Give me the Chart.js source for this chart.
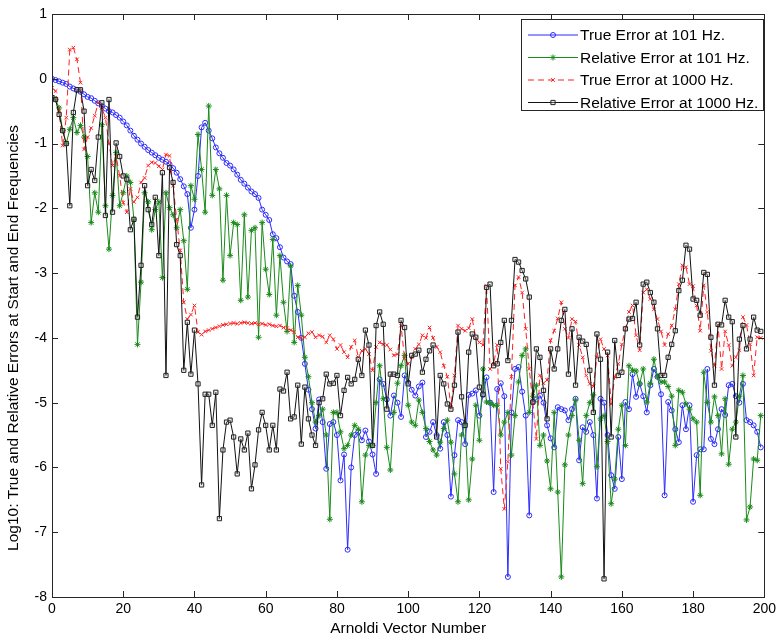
<!DOCTYPE html>
<html>
<head>
<meta charset="utf-8">
<script src="https://cdn.jsdelivr.net/npm/chart.js@4.4.1/dist/chart.umd.min.js"></script>
<style>
  html, body { margin: 0; padding: 0; background: #ffffff; }
  canvas { display: block; }
</style>
</head>
<body>
<canvas id="chart" width="780" height="641"></canvas>
<script>
// log10 error per Arnoldi vector (index 0..199)
const trueErr101 = [
  0, -0.02, -0.04, -0.06, -0.08, -0.12, -0.15, -0.17, -0.2, -0.24,
  -0.28, -0.3, -0.34, -0.38, -0.42, -0.46, -0.5, -0.52, -0.56, -0.6,
  -0.66, -0.72, -0.8, -0.88, -0.94, -1.0, -1.05, -1.1, -1.14, -1.18,
  -1.22, -1.25, -1.28, -1.32, -1.38, -1.45, -1.55, -1.66, -1.78, -2.3,
  -2.02, -1.5, -0.75, -0.68, -0.8, -0.92, -1.06, -1.15, -1.22, -1.3,
  -1.34, -1.4, -1.48, -1.56, -1.62, -1.68, -1.74, -1.78, -1.84, -2.02,
  -2.1, -2.18, -2.4, -2.46, -2.6, -2.76, -2.82, -2.86, -3.35, -3.6,
  -4.0, -4.4, -4.8, -5.1, -5.4, -4.95, -5.3, -6.02, -5.33, -5.3,
  -5.5, -6.2, -5.8, -7.27, -6.0, -5.5, -5.45, -5.58, -5.43, -5.6,
  -5.8, -6.1, -4.64, -4.71, -4.95, -5.2, -4.89, -5.0, -5.22, -4.58,
  -4.69, -4.8, -4.89, -4.75, -4.69, -5.53, -5.45, -5.3, -5.5, -5.71,
  -5.3, -5.5, -6.45, -5.81, -5.27, -5.3, -5.64, -4.88, -4.86, -4.81,
  -5.2, -4.88, -4.61, -5.0, -6.38, -4.79, -4.7, -4.9, -7.69, -5.15,
  -4.48, -4.45, -4.83, -5.2, -6.74, -4.99, -4.95, -4.89, -5.0, -5.35,
  -5.55, -5.69, -5.07, -5.1, -5.12, -5.27, -5.1, -4.94, -5.89, -5.38,
  -5.45, -5.3, -5.5, -6.48, -4.94, -5.0, -5.5, -6.12, -6.33, -5.53,
  -6.18, -4.99, -5.1, -4.56, -4.91, -4.71, -4.9, -5.15, -4.73, -4.48,
  -4.6, -4.87, -6.43, -4.99, -5.12, -5.41, -5.61, -5.04, -5.41, -5.04,
  -6.53, -5.81, -5.72, -5.72, -4.48, -5.56, -5.64, -5.41, -5.1, -5.19,
  -4.73, -4.71, -4.9, -5.0, -4.71, -5.27, -5.3, -5.35, -5.45, -5.69
];
const relErr101 = [
  -0.29, -0.32, -0.45, -0.8, -1.0, -0.78, -0.6, -0.83, -0.72, -0.9,
  -1.2, -2.22, -1.76, -2.06, -0.71, -1.96, -2.63, -1.8, -1.14, -1.96,
  -1.76, -1.5, -1.6, -2.17, -4.1, -3.14, -1.76, -1.9, -2.33, -2.02,
  -1.9, -3.07, -1.76, -1.99, -2.1, -2.3, -2.02, -2.5, -3.25, -1.65,
  -1.86, -0.86, -1.4, -2.06, -0.42, -1.8, -1.4, -1.7, -3.11, -1.8,
  -2.73, -2.22, -2.25, -3.42, -2.1, -3.37, -2.34, -2.3, -3.99, -2.22,
  -2.94, -3.33, -2.48, -3.65, -2.73, -3.45, -3.9, -2.89, -4.07, -3.19,
  -3.65, -4.3, -4.6, -5.0, -5.3, -5.2, -5.1, -5.5, -6.8, -5.15,
  -5.15, -5.45, -5.71, -5.66, -5.5, -5.35, -5.41, -6.53, -5.81, -5.66,
  -5.66, -5.0, -4.43, -4.94, -5.69, -6.04, -5.15, -4.7, -4.43, -4.27,
  -5.04, -5.3, -5.35, -4.96, -5.15, -5.4, -5.6, -5.73, -5.81, -5.61,
  -5.4, -5.27, -5.61, -6.1, -6.53, -5.5, -5.33, -6.5, -5.87, -5.04,
  -5.58, -4.48, -4.99, -5.0, -5.04, -5.04, -5.5, -5.3, -5.15, -5.81,
  -5.2, -4.68, -4.27, -4.17, -5.15, -4.9, -4.73, -5.66, -5.5, -5.9,
  -6.33, -5.15, -6.38, -7.69, -5.96, -5.5, -5.2, -4.96, -5.58, -6.25,
  -5.2, -5.0, -4.88, -5.99, -5.25, -5.2, -5.6, -6.56, -6.18, -5.41,
  -5.04, -5.66, -4.43, -4.5, -4.51, -4.71, -4.48, -4.99, -4.7, -4.33,
  -4.6, -4.68, -4.68, -4.75, -4.9, -5.66, -4.81, -4.84, -5.02, -5.1,
  -5.25, -5.3, -6.43, -4.53, -5.0, -5.3, -4.91, -5.2, -5.79, -4.94,
  -5.95, -5.41, -5.3, -4.9, -4.58, -6.81, -6.61, -5.87, -5.89, -5.2
];
const trueErr1000 = [
  -0.14, -0.19, -0.52, -1.03, -0.6, 0.45, 0.48, 0.3, -0.06, -1.09,
  -0.9, -0.76, -0.57, -0.37, -0.45, -0.6, -1.0, -1.34, -1.2, -1.5,
  -1.91, -2.06, -1.7, -1.9, -1.83, -1.6, -1.53, -1.34, -1.29, -1.3,
  -1.35, -1.4, -1.17, -1.19, -1.65, -2.17, -2.65, -3.45, -3.71, -3.64,
  -3.5, -3.91, -3.95, -3.9, -3.88, -3.86, -3.84, -3.82, -3.8, -3.79,
  -3.78, -3.77, -3.78, -3.77, -3.76, -3.77, -3.78, -3.77, -3.79, -3.78,
  -3.8, -3.79, -3.81, -3.82, -3.81, -3.84, -3.85, -3.88, -3.91, -3.99,
  -4.0, -3.99, -3.93, -3.91, -3.99, -3.96, -3.98, -4.07, -3.96, -4.02,
  -4.17, -4.11, -4.22, -4.3, -4.14, -4.04, -4.3, -4.2, -4.17, -4.25,
  -4.5, -4.14, -4.07, -4.1, -4.11, -4.18, -4.27, -4.25, -3.81, -4.32,
  -4.4, -4.3, -4.17, -4.1, -3.96, -4.0, -3.84, -4.0, -4.14, -4.22,
  -4.43, -4.6, -5.07, -4.58, -3.81, -3.86, -3.89, -3.85, -3.71, -4.0,
  -4.07, -4.11, -3.2, -4.48, -4.4, -4.11, -6.02, -6.64, -5.91, -4.6,
  -3.19, -3.06, -3.3, -3.86, -4.48, -5.0, -5.56, -4.58, -4.7, -4.65,
  -4.04, -3.89, -3.7, -3.45, -3.86, -4.0, -3.71, -3.75, -4.11, -4.3,
  -4.58, -4.71, -4.75, -4.3, -4.02, -4.17, -4.27, -5.02, -4.6, -4.4,
  -4.1, -3.86, -3.6, -3.5, -3.96, -4.19, -3.3, -3.25, -3.4, -3.56,
  -3.71, -3.9, -4.11, -3.94, -3.81, -3.56, -3.17, -2.88, -2.91, -3.17,
  -3.2, -3.5, -3.89, -3.19, -3.6, -4.2, -4.43, -3.8, -4.48, -3.9,
  -4.11, -4.43, -4.3, -4.19, -3.68, -3.8, -4.1, -4.58, -3.99, -4.0
];
const relErr1000 = [
  -0.29, -0.32, -0.55, -0.8, -1.0, -1.96, -0.52, -0.17, -0.17, -0.5,
  -1.65, -1.4, -1.57, -0.9, -0.37, -2.11, -0.32, -2.06, -0.99, -1.2,
  -1.5, -1.55, -2.33, -2.17, -3.68, -2.88, -1.65, -2.02, -2.25, -1.83,
  -2.73, -1.45, -4.58, -1.37, -1.6, -2.56, -2.73, -4.5, -3.76, -4.56,
  -3.88, -4.71, -6.27, -4.87, -4.87, -5.35, -4.84, -6.79, -5.73, -5.3,
  -5.27, -5.53, -6.1, -5.56, -5.73, -5.47, -6.33, -5.96, -5.42, -5.15,
  -5.35, -5.73, -5.35, -5.73, -4.79, -4.82, -4.53, -5.25, -5.22, -4.73,
  -5.64, -4.76, -5.25, -5.5, -5.66, -5.0, -4.94, -4.56, -4.71, -4.7,
  -4.58, -5.2, -4.81, -4.61, -4.71, -4.64, -4.33, -4.58, -3.88, -4.11,
  -5.66, -3.81, -3.6, -3.79, -5.1, -4.56, -4.56, -4.58, -3.73, -3.84,
  -4.71, -4.27, -4.25, -4.19, -4.53, -4.33, -4.2, -4.11, -5.53, -4.58,
  -4.71, -5.02, -5.1, -4.73, -3.91, -4.91, -5.35, -4.22, -3.94, -3.99,
  -4.76, -4.87, -3.22, -3.17, -4.43, -4.4, -4.07, -3.73, -4.35, -3.73,
  -2.79, -2.83, -2.96, -3.09, -3.37, -4.99, -4.17, -4.3, -4.81, -5.25,
  -4.17, -4.48, -4.17, -3.73, -3.56, -4.56, -3.86, -4.73, -3.99, -4.05,
  -4.1, -4.5, -5.15, -3.94, -4.33, -7.72, -4.22, -5.53, -4.04, -4.58,
  -4.53, -3.86, -3.71, -3.7, -3.45, -4.11, -3.17, -3.14, -3.3, -3.45,
  -3.86, -4.58, -4.58, -4.3, -4.1, -3.89, -3.27, -3.11, -2.57, -2.63,
  -3.4, -3.42, -3.65, -2.99, -3.02, -3.99, -4.73, -3.79, -3.8, -3.42,
  -3.68, -3.75, -5.53, -4.02, -3.81, -4.17, -4.02, -3.68, -3.88, -3.9
];
const xTickValues = [0, 20, 40, 60, 80, 100, 120, 140, 160, 180, 200];
const yTickValues = [1, 0, -1, -2, -3, -4, -5, -6, -7, -8];
const seriesLabels = [
  'True Error at 101 Hz.',
  'Relative Error at 101 Hz.',
  'True Error at 1000 Hz.',
  'Relative Error at 1000 Hz.'
];
const xTitle = 'Arnoldi Vector Number';
const yTitle = 'Log10: True and Relative Errors at Start and End Frequencies';

const FONT = '"Liberation Sans", Arial, Helvetica, sans-serif';
const toPoints = arr => arr.map((v, i) => ({ x: i, y: v }));

// Inward tick marks on all four sides, the axes box and the axis titles
const boxTicks = {
  id: 'boxTicks',
  afterDraw(chart) {
    const { ctx, chartArea: a, scales } = chart;
    ctx.save();
    ctx.strokeStyle = '#262626';
    ctx.lineWidth = 1;
    ctx.beginPath();
    const len = 6;
    xTickValues.forEach(v => {
      const px = Math.round(scales.x.getPixelForValue(v)) + 0.5;
      ctx.moveTo(px, a.bottom); ctx.lineTo(px, a.bottom - len);
      ctx.moveTo(px, a.top); ctx.lineTo(px, a.top + len);
    });
    yTickValues.forEach(v => {
      const py = Math.round(scales.y.getPixelForValue(v)) + 0.5;
      ctx.moveTo(a.left, py); ctx.lineTo(a.left + len, py);
      ctx.moveTo(a.right, py); ctx.lineTo(a.right - len, py);
    });
    ctx.stroke();
    ctx.strokeRect(Math.round(a.left) + 0.5, Math.round(a.top) + 0.5,
                   Math.round(a.right - a.left), Math.round(a.bottom - a.top));

    ctx.fillStyle = '#000000';
    ctx.font = '15.5px ' + FONT;
    ctx.textAlign = 'center';
    ctx.textBaseline = 'middle';
    ctx.fillText(xTitle, (a.left + a.right) / 2, 629);
    ctx.translate(14, 338);
    ctx.rotate(-Math.PI / 2);
    ctx.fillText(yTitle, 0, 0);
    ctx.restore();
  }
};

// Boxed legend in the upper-right corner of the axes
const boxLegend = {
  id: 'boxLegend',
  afterDraw(chart) {
    const { ctx } = chart;
    const x0 = 521.5, y0 = 19.5, w = 242, h = 91;
    ctx.save();
    ctx.fillStyle = '#ffffff';
    ctx.fillRect(x0, y0, w, h);
    ctx.strokeStyle = '#262626';
    ctx.lineWidth = 1;
    ctx.strokeRect(x0, y0, w, h);
    ctx.font = '15.5px ' + FONT;
    ctx.textBaseline = 'middle';
    chart.data.datasets.forEach((ds, i) => {
      const y = 35 + i * 22.5;
      ctx.save();
      ctx.strokeStyle = ds.borderColor;
      ctx.lineWidth = 1;
      ctx.setLineDash(ds.borderDash || []);
      ctx.beginPath();
      ctx.moveTo(528, y); ctx.lineTo(578, y);
      ctx.stroke();
      ctx.setLineDash([]);
      ctx.fillStyle = ds.pointBackgroundColor;
      ctx.strokeStyle = ds.pointBorderColor;
      Chart.helpers.drawPoint(ctx, {
        pointStyle: ds.pointStyle, radius: ds.pointRadius, rotation: 0,
        borderWidth: 1
      }, 553, y);
      ctx.restore();
      ctx.fillStyle = '#000000';
      ctx.fillText(ds.label, 580, y + 1);
    });
    ctx.restore();
  }
};

const common = { borderWidth: 1, pointBorderWidth: 1, tension: 0, pointHoverRadius: 3 };

new Chart(document.getElementById('chart'), {
  type: 'line',
  data: {
    datasets: [
      Object.assign({}, common, {
        label: seriesLabels[0], data: toPoints(trueErr101), order: 3,
        borderColor: '#2b2bff', pointBorderColor: '#2b2bff',
        backgroundColor: 'rgba(0,0,0,0)', pointBackgroundColor: 'rgba(255,255,255,0)',
        pointStyle: 'circle', pointRadius: 2.5
      }),
      Object.assign({}, common, {
        label: seriesLabels[1], data: toPoints(relErr101), order: 2,
        borderColor: '#1a8a1a', pointBorderColor: '#1a8a1a',
        backgroundColor: '#1a8a1a', pointBackgroundColor: '#1a8a1a',
        pointStyle: 'star', pointRadius: 3
      }),
      Object.assign({}, common, {
        label: seriesLabels[2], data: toPoints(trueErr1000), order: 1,
        borderColor: '#ff2020', pointBorderColor: '#ff2020',
        backgroundColor: '#ff2020', pointBackgroundColor: '#ff2020',
        borderDash: [6, 4],
        pointStyle: 'crossRot', pointRadius: 2.5
      }),
      Object.assign({}, common, {
        label: seriesLabels[3], data: toPoints(relErr1000), order: 0,
        borderColor: '#111111', pointBorderColor: '#222222',
        backgroundColor: 'rgba(0,0,0,0)', pointBackgroundColor: 'rgba(200,200,200,0.35)',
        pointStyle: 'rect', pointRadius: 3
      })
    ]
  },
  options: {
    responsive: false,
    animation: false,
    devicePixelRatio: 1,
    layout: { padding: { top: 14, right: 13, left: 0, bottom: 0 } },
    plugins: { legend: { display: false }, tooltip: { enabled: false } },
    scales: {
      x: {
        type: 'linear', min: 0, max: 200,
        afterFit(scale) { scale.height = 44; },
        afterBuildTicks(scale) { scale.ticks = xTickValues.map(v => ({ value: v })); },
        grid: { display: false, drawTicks: false },
        border: { display: false },
        ticks: { color: '#000', padding: 4, font: { family: FONT, size: 14 }, maxRotation: 0 }
      },
      y: {
        type: 'linear', min: -8, max: 1,
        afterFit(scale) { scale.width = 52; },
        afterBuildTicks(scale) { scale.ticks = yTickValues.map(v => ({ value: v })); },
        grid: { display: false, drawTicks: false },
        border: { display: false },
        ticks: { color: '#000', padding: 5, font: { family: FONT, size: 14 } }
      }
    }
  },
  plugins: [boxTicks, boxLegend]
});
</script>
</body>
</html>
